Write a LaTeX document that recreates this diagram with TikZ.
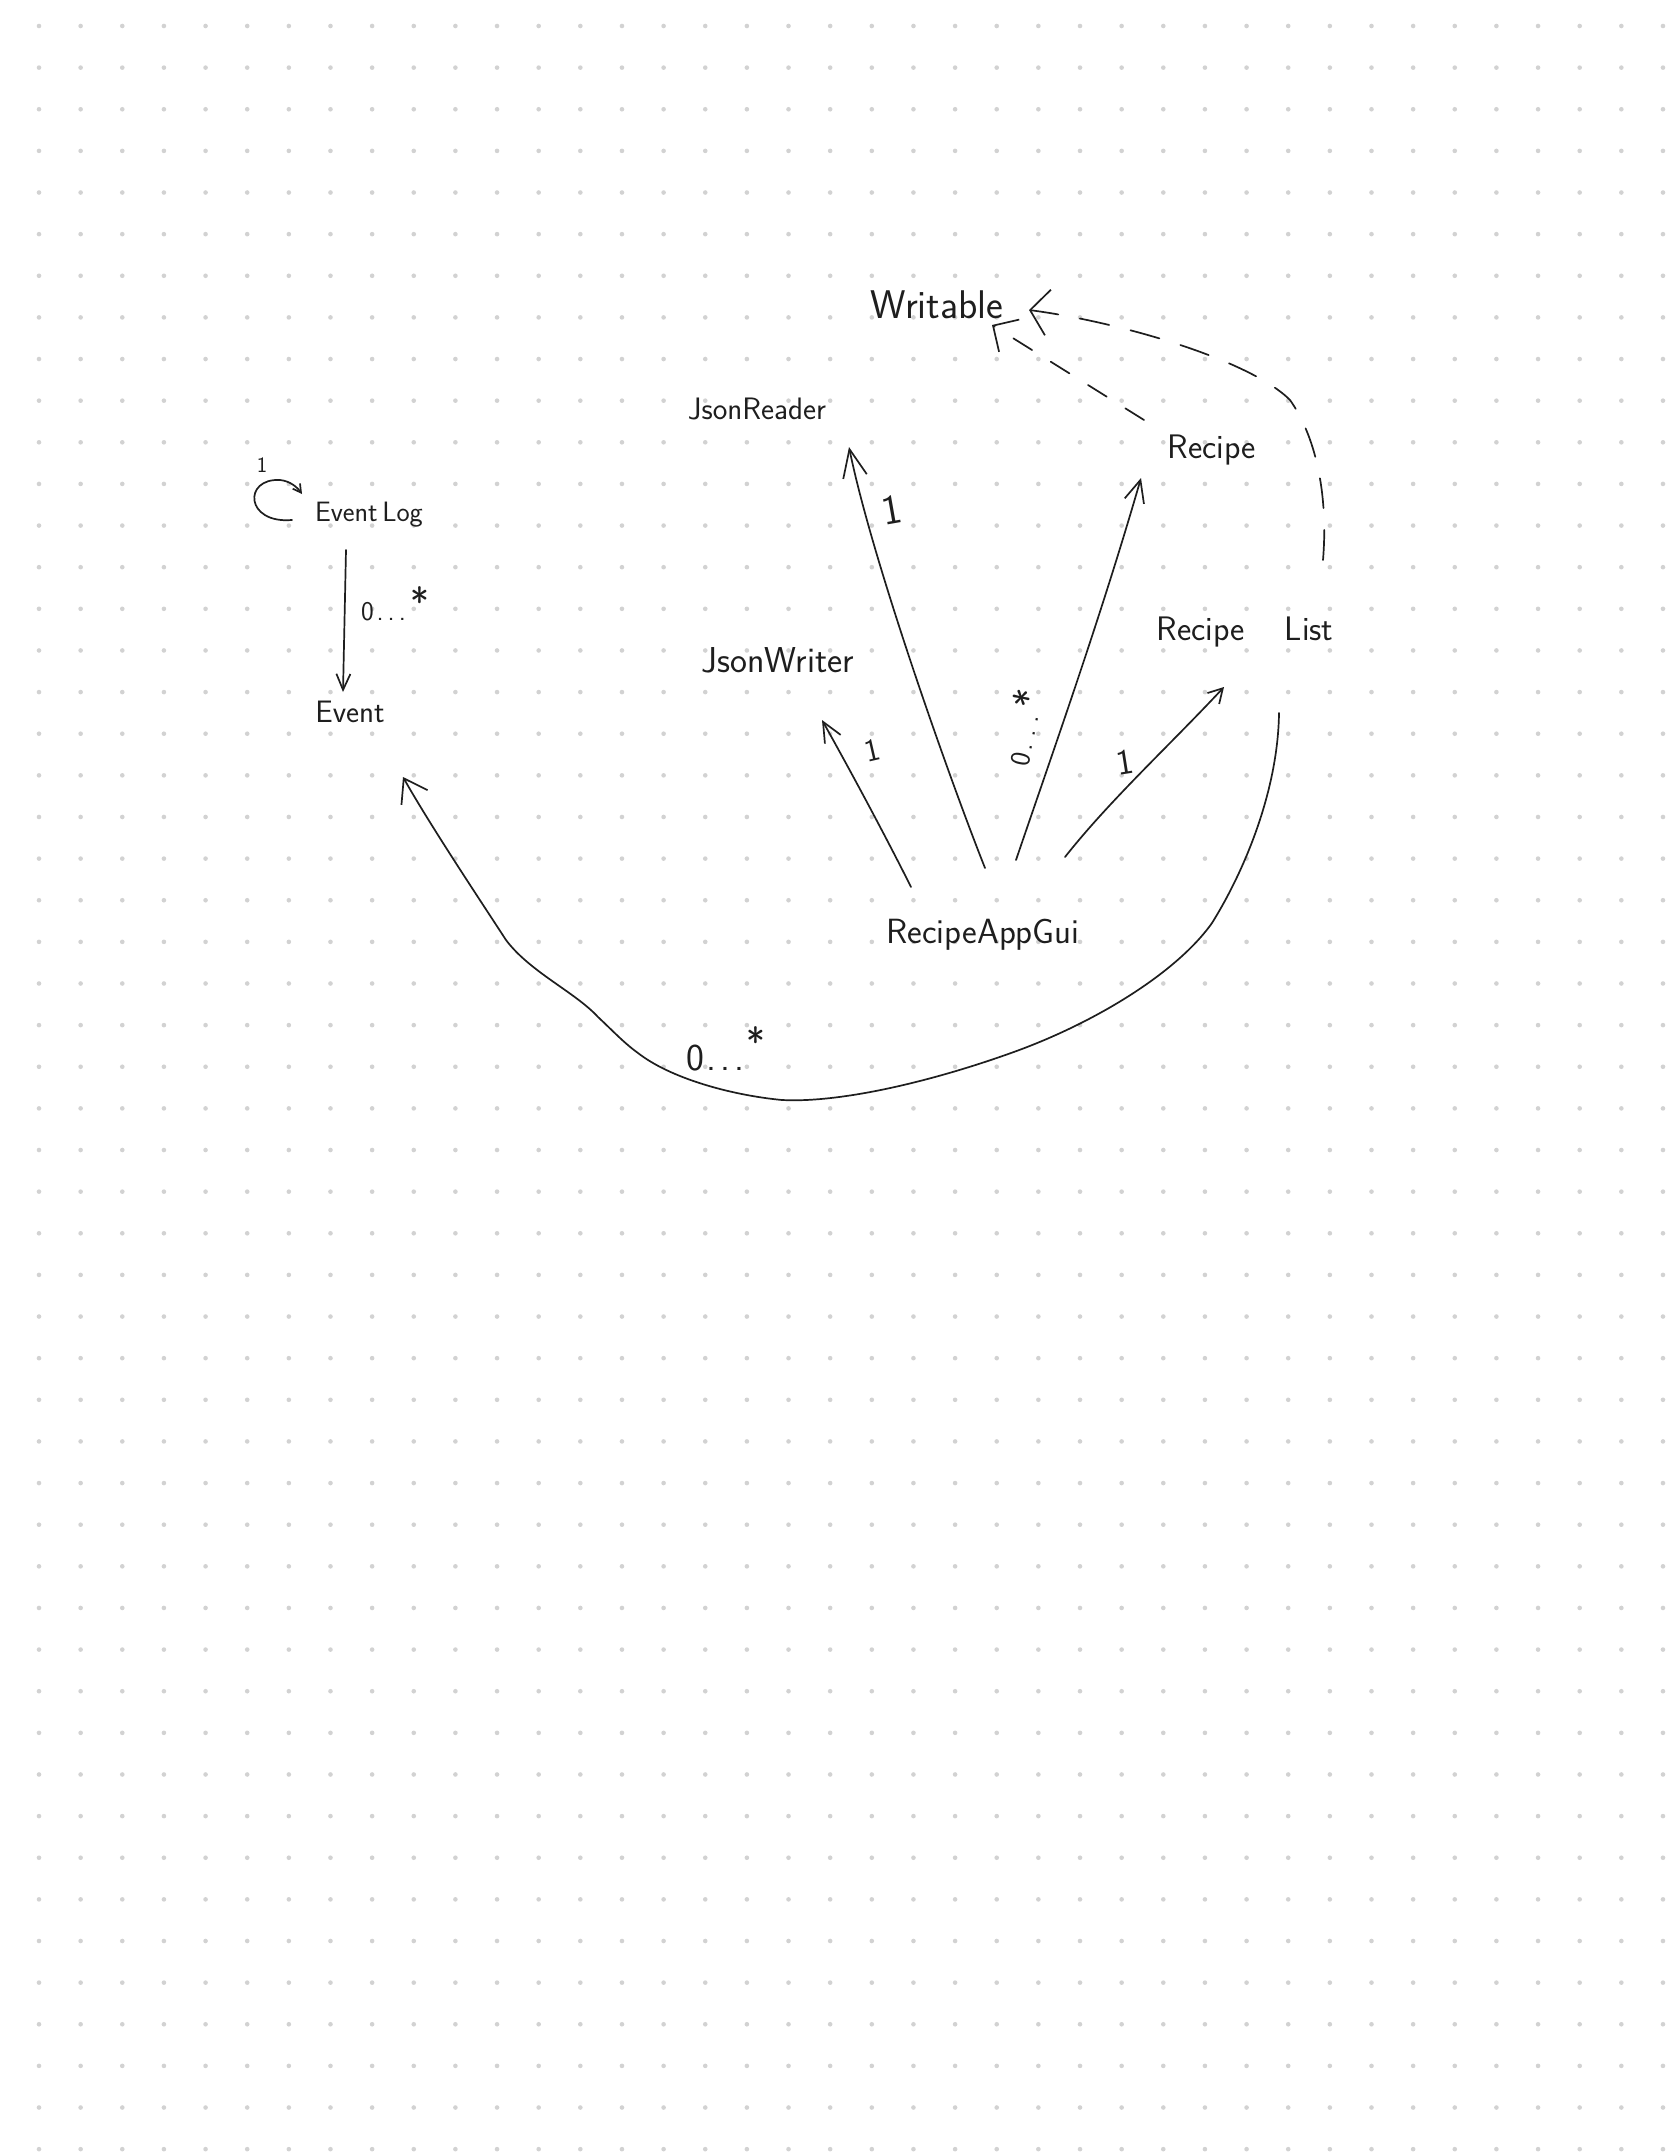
\documentclass[tikz,border=0pt]{standalone}
\usetikzlibrary{arrows.meta}
\definecolor{inkc}{HTML}{1E1E1E}
\definecolor{dotc}{HTML}{D2D2D2}
\newcommand\hfs[1]{\sffamily\fontsize{#1}{#1}\selectfont}
\newcommand\mystar{{\fontsize{40}{40}\selectfont *}}
\tikzset{
  ink/.style={draw=inkc, line width=1.7pt, line cap=round, line join=round},
  dsh/.style={ink, dash pattern=on 22pt off 22pt},
  lbl/.style={text=inkc, inner sep=0pt, outer sep=0pt},
  griddot/.style={fill=dotc},
}
\begin{document}
\begin{tikzpicture}[x=1pt,y=-1pt]
\fill[white] (0,0) rectangle (1668,2154);
\useasboundingbox (0,0) rectangle (1668,2154);
\foreach \i in {0,...,39}{\foreach \j in {0,...,51}{\fill[griddot] ({39+\i*41.64},{26+\j*41.63}) circle (2.3pt);}}

% class names
\node[lbl, font=\hfs{40}, anchor=base] (writable) at (937,318) {Writable};
\node[lbl, font=\hfs{31}, anchor=base] (jsonreader) at (757,419) {JsonReader};
\node[lbl, font=\hfs{34}, anchor=base] (recipe) at (1212,458) {Recipe};
\node[lbl, font=\hfs{34}, anchor=base] (recipelist) at (1245,640) {Recipe\hspace{40pt}List};
\node[lbl, font=\hfs{36}, anchor=base] (jsonwriter) at (778,672) {JsonWriter};
\node[lbl, font=\hfs{35}, anchor=base] (gui) at (983,943) {RecipeAppGui};
\node[lbl, font=\hfs{28}, anchor=base] (eventlog) at (369,521) {Event\,Log};
\node[lbl, font=\hfs{31}, anchor=base] (event) at (350,722) {Event};

% EventLog self association
\draw[ink, -{Straight Barb[length=8pt,width=9pt]}] ([shift={(-77,-1)}]eventlog.base) .. controls (245,524) and (243,478) .. (280,480) .. controls (290,481) and (297,487) .. ([shift={(-67,-27)}]eventlog.base);
\node[lbl, font=\hfs{22}] (m-el) at (262,465) {1};

% EventLog -> Event
\draw[ink, -{Straight Barb[length=16pt,width=14pt]}] ([shift={(-23,29)}]eventlog.base) -- ([shift={(-7,-30)}]event.base);
\node[lbl, font=\hfs{27}, anchor=base west] (m-ev) at (361,620) {0\hspace{3pt}.\hspace{4pt}.\hspace{4pt}.\hspace{5pt}\raisebox{4pt}{\mystar}};

% RecipeAppGui -> JsonReader
\draw[ink, -{Straight Barb[length=28pt,width=24pt]}] ([shift={(2,-75)}]gui.base) .. controls (950,780) and (872,560) .. ([shift={(92,28)}]jsonreader.base);
\node[lbl, font=\hfs{42}, rotate=10] (m-jr) at (892,510) {1};

% RecipeAppGui -> JsonWriter
\draw[ink, -{Straight Barb[length=20pt,width=18pt]}] ([shift={(-72,-56)}]gui.base) .. controls (885,835) and (850,770) .. ([shift={(44,48)}]jsonwriter.base);
\node[lbl, font=\hfs{32}, rotate=13] (m-jw) at (872,750) {1};

% RecipeAppGui -> Recipe
\draw[ink, -{Straight Barb[length=22pt,width=20pt]}] ([shift={(33,-83)}]gui.base) .. controls (1050,760) and (1100,620) .. ([shift={(-71,20)}]recipe.base);
\node[lbl, font=\hfs{28}, rotate=78] (m-rc) at (1022,727) {0\hspace{3pt}.\hspace{7pt}.\hspace{7pt}.\hspace{5pt}\mystar};

% RecipeAppGui -> RecipeList
\draw[ink, -{Straight Barb[length=14pt,width=16pt]}] ([shift={(82,-86)}]gui.base) .. controls (1110,800) and (1170,745) .. ([shift={(-21,47)}]recipelist.base);
\node[lbl, font=\hfs{36}, rotate=9] (m-rl) at (1125,762) {1};

% RecipeList -> Event (long curve)
\draw[ink, -{Straight Barb[length=22pt,width=30pt]}] ([shift={(34,73)}]recipelist.base)
  .. controls (1278,790) and (1245,870) .. (1212,923)
  .. controls (1175,975) and (1090,1025) .. (1011,1053)
  .. controls (930,1082) and (840,1103) .. (782,1100)
  .. controls (730,1095) and (670,1078) .. (638,1053)
  .. controls (624,1043) and (612,1030) .. (598,1017)
  .. controls (575,992) and (530,972) .. (506,940)
  .. controls (480,900) and (430,825) .. ([shift={(53,55)}]event.base);
\node[lbl, font=\hfs{38}, anchor=base west] (m-big) at (686,1070) {0\hspace{3pt}.\hspace{4pt}.\hspace{4pt}.\hspace{2pt}\raisebox{14pt}{\mystar}};

% realizations of Writable (dashed)
\draw[dsh, -{Straight Barb[length=19pt,width=38pt]}] ([shift={(-68,-38)}]recipe.base) -- ([shift={(55,7)}]writable.base);
\draw[dsh, dash pattern=on 30pt off 22pt, -{Straight Barb[length=18pt,width=46pt]}] ([shift={(78,-80)}]recipelist.base) .. controls (1328,500) and (1318,440) .. (1290,400) .. controls (1250,360) and (1120,322) .. ([shift={(92,-8)}]writable.base);
\end{tikzpicture}
\end{document}
